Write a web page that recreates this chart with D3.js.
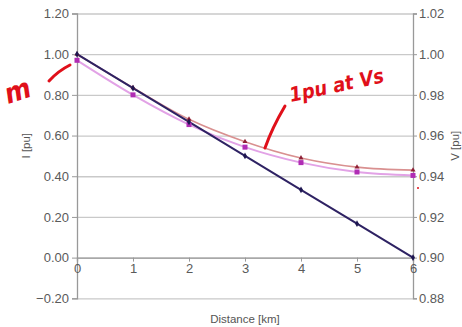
<!DOCTYPE html>
<html>
<head>
<meta charset="utf-8">
<script src="https://cdn.jsdelivr.net/npm/d3@7"></script>
<style>
  body { margin: 0; background: #fff; }
  svg { display: block; font-family: 'Liberation Sans', Arial, sans-serif; }
  .tick-label { fill: #5a5a5a; }
  .grid line { stroke: #c9c9c9; stroke-width: 1.3; }
</style>
</head>
<body>
<div id="chart"></div>
<script>
// distance along the feeder, km
const distance = [0, 1, 2, 3, 4, 5, 6];
// current, left axis
const current = [1.0, 0.833, 0.667, 0.5, 0.333, 0.167, 0.0];
// voltages, right axis
const voltageA = [1.000, 0.9835, 0.968, 0.957, 0.949, 0.9445, 0.943];
const voltageB = [0.997, 0.980, 0.9654, 0.9543, 0.9467, 0.9421, 0.9404];

const leftTicks = [-0.2, 0, 0.2, 0.4, 0.6, 0.8, 1.0, 1.2];
const rightTicks = [0.88, 0.90, 0.92, 0.94, 0.96, 0.98, 1.00, 1.02];
const xTicks = [0, 1, 2, 3, 4, 5, 6];

const W = 462, H = 327;
const margin = { top: 13.5, right: 49, bottom: 28.7, left: 77 };
const innerW = W - margin.left - margin.right;
const innerH = H - margin.top - margin.bottom;

const x = d3.scaleLinear().domain([0, 6]).range([0, innerW]);
const yL = d3.scaleLinear().domain([-0.2, 1.2]).range([innerH, 0]);
const yR = d3.scaleLinear().domain([0.88, 1.02]).range([innerH, 0]);

const svg = d3.select('#chart').append('svg')
  .attr('width', W)
  .attr('height', H);

const g = svg.append('g')
  .attr('transform', 'translate(' + margin.left + ',' + margin.top + ')');

// horizontal gridlines
g.append('g').attr('class', 'grid')
  .call(d3.axisLeft(yL).tickValues(leftTicks).tickSize(-innerW).tickFormat(''))
  .call(s => s.select('.domain').remove());

function styleAxis(sel) {
  sel.select('.domain').attr('stroke', '#999').attr('stroke-width', 1.3);
  sel.selectAll('.tick line').attr('stroke', '#999');
  sel.selectAll('.tick text').attr('class', 'tick-label').attr('font-size', 13);
}

// left axis
g.append('g')
  .call(d3.axisLeft(yL).tickValues(leftTicks).tickSize(5).tickPadding(3).tickFormat(d3.format('.2f')))
  .call(styleAxis);

// right axis
g.append('g')
  .attr('transform', 'translate(' + innerW + ',0)')
  .call(d3.axisRight(yR).tickValues(rightTicks).tickSize(4).tickPadding(2).tickFormat(d3.format('.2f')))
  .call(styleAxis);

// x axis sits at I = 0
g.append('g')
  .attr('transform', 'translate(0,' + yL(0) + ')')
  .call(d3.axisBottom(x).tickValues(xTicks).tickSize(4).tickPadding(2).tickFormat(d3.format('d')))
  .call(styleAxis);

// axis titles
svg.append('text')
  .attr('transform', 'translate(30,' + (margin.top + yL(0.55)) + ') rotate(-90)')
  .attr('text-anchor', 'middle')
  .attr('fill', '#555').attr('font-size', 11.5)
  .text('I [pu]');
svg.append('text')
  .attr('transform', 'translate(459,' + (margin.top + yL(0.55)) + ') rotate(-90)')
  .attr('text-anchor', 'middle')
  .attr('fill', '#555').attr('font-size', 11.5)
  .text('V [pu]');
svg.append('text')
  .attr('x', margin.left + x(3)).attr('y', 323)
  .attr('text-anchor', 'middle')
  .attr('fill', '#555').attr('font-size', 11.5)
  .text('Distance [km]');

// series
const lineV = d3.line().x((d, i) => x(distance[i])).y(d => yR(d)).curve(d3.curveMonotoneX);
const lineI = d3.line().x((d, i) => x(distance[i])).y(d => yL(d));

g.append('path').datum(voltageB)
  .attr('fill', 'none').attr('stroke', '#e2a2e6').attr('stroke-width', 2)
  .attr('d', lineV);
g.append('path').datum(voltageA)
  .attr('fill', 'none').attr('stroke', '#d99090').attr('stroke-width', 1.6)
  .attr('d', lineV);
g.append('path').datum(current)
  .attr('fill', 'none').attr('stroke', '#2e2263').attr('stroke-width', 2)
  .attr('d', lineI);

// markers
g.selectAll('.mB').data(voltageB).enter().append('rect')
  .attr('x', (d, i) => x(distance[i]) - 2.5).attr('y', d => yR(d) - 2.5)
  .attr('width', 5).attr('height', 5)
  .attr('fill', '#b02cb4');
g.selectAll('.mA').data(voltageA).enter().append('path')
  .attr('transform', (d, i) => 'translate(' + x(distance[i]) + ',' + yR(d) + ')')
  .attr('d', d3.symbol(d3.symbolTriangle, 11))
  .attr('fill', '#8e1f35');
g.selectAll('.mI').data(current).enter().append('path')
  .attr('transform', (d, i) => 'translate(' + x(distance[i]) + ',' + yL(d) + ')')
  .attr('d', d3.symbol(d3.symbolDiamond, 13))
  .attr('fill', '#1d1650');

// handwritten annotations
const ink = '#e0101a';
svg.append('path')
  .attr('d', 'M265,148 Q272,128 285,106')
  .attr('fill', 'none').attr('stroke', ink).attr('stroke-width', 3).attr('stroke-linecap', 'round');
svg.append('text')
  .attr('transform', 'translate(291,102) rotate(-12)')
  .attr('fill', ink).attr('font-size', 20).attr('font-style', 'italic').attr('font-weight', 'bold')
  .attr('font-family', 'DejaVu Sans Condensed, DejaVu Sans, sans-serif')
  .text('1pu at Vs');
svg.append('text')
  .attr('transform', 'translate(8,104) rotate(-18)')
  .attr('fill', ink).attr('font-size', 28).attr('font-style', 'italic').attr('font-weight', 'bold')
  .attr('font-family', 'DejaVu Sans Condensed, DejaVu Sans, sans-serif')
  .text('m');
svg.append('path')
  .attr('d', 'M49,81 Q58,71 70,65')
  .attr('fill', 'none').attr('stroke', ink).attr('stroke-width', 3).attr('stroke-linecap', 'round');
svg.append('circle').attr('cx', 418).attr('cy', 188).attr('r', 1).attr('fill', ink);
</script>
</body>
</html>
